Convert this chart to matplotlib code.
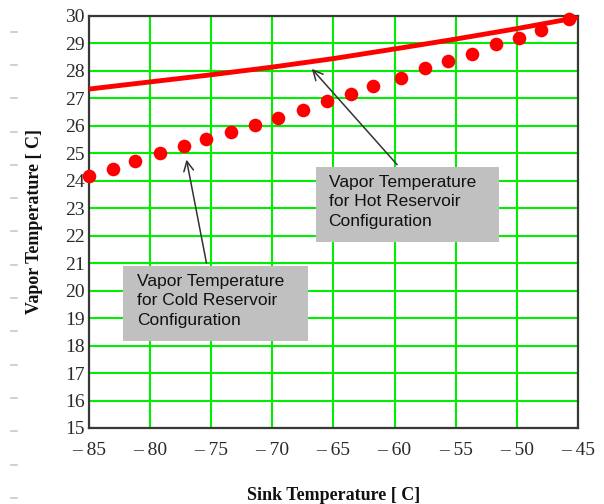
import matplotlib
matplotlib.use("Agg")
import matplotlib.pyplot as plt
from matplotlib.patches import Rectangle
from matplotlib.lines import Line2D

# Data
sink_cold = [-85.0, -83.0, -81.2, -79.2, -77.2, -75.4, -73.4, -71.4, -69.5, -67.5,
             -65.5, -63.6, -61.8, -59.5, -57.5, -55.6, -53.7, -51.7, -49.8, -48.0, -45.7]
vapor_cold = [24.18, 24.44, 24.73, 25.02, 25.27, 25.53, 25.78, 26.04, 26.29, 26.58,
              26.91, 27.16, 27.45, 27.75, 28.09, 28.36, 28.62, 28.97, 29.20, 29.49, 29.90]
sink_hot = [-85, -80, -75, -70, -65, -60, -55, -50, -45]
vapor_hot = [27.34, 27.60, 27.86, 28.14, 28.45, 28.80, 29.16, 29.54, 29.95]

x_ticks = [-85, -80, -75, -70, -65, -60, -55, -50, -45]
x_tick_labels = ["\u2013 85", "\u2013 80", "\u2013 75", "\u2013 70", "\u2013 65",
                 "\u2013 60", "\u2013 55", "\u2013 50", "\u2013 45"]
y_ticks = list(range(15, 31))

W, H = 604, 504
fig = plt.figure(figsize=(W / 100, H / 100), dpi=100)
ax = fig.add_axes([89 / W, 1 - 428 / H, (578 - 89) / W, (428 - 16) / H])

ax.set_xlim(-85, -45)
ax.set_ylim(15, 30)
ax.set_xticks(x_ticks)
ax.set_xticklabels(x_tick_labels)
ax.set_yticks(y_ticks)
ax.grid(True, color="#00ee00", linewidth=1.5)
ax.set_axisbelow(True)
ax.tick_params(axis="y", length=0, labelsize=14, colors="#2a2a2a", pad=3)
ax.tick_params(axis="x", length=0, labelsize=14, colors="#2a2a2a", pad=10)
for lab in ax.get_xticklabels() + ax.get_yticklabels():
    lab.set_family("Liberation Serif")
for s in ax.spines.values():
    s.set_color("#383838")
    s.set_linewidth(1.6)

ax.plot(sink_hot, vapor_hot, color="#ff0000", linewidth=3.5, solid_capstyle="butt", zorder=3)
ax.plot(sink_cold, vapor_cold, linestyle="none", marker="o", markersize=9.8,
        color="#ff0000", markeredgewidth=0, zorder=4, clip_on=False)

# Annotation boxes
ax.add_patch(Rectangle((-66.43, 21.78), 14.97, 2.73, facecolor="#c0c0c0",
                       edgecolor="none", zorder=5))
ax.add_patch(Rectangle((-82.22, 18.18), 15.13, 2.73, facecolor="#c0c0c0",
                       edgecolor="none", zorder=5))
ax.text(-65.4, 24.22, "Vapor Temperature\nfor Hot Reservoir\nConfiguration",
        family="Liberation Sans", fontsize=12.5, color="#111111", va="top", ha="left",
        linespacing=1.38, zorder=6)
ax.text(-81.1, 20.62, "Vapor Temperature\nfor Cold Reservoir\nConfiguration",
        family="Liberation Sans", fontsize=12.5, color="#111111", va="top", ha="left",
        linespacing=1.38, zorder=6)

ax.annotate("", xy=(-66.92, 28.15), xytext=(-59.64, 24.51),
            arrowprops=dict(arrowstyle="->,head_length=0.7,head_width=0.35",
                            color="#333333", lw=1.1), zorder=6)
ax.annotate("", xy=(-77.07, 24.87), xytext=(-75.35, 20.91),
            arrowprops=dict(arrowstyle="->,head_length=0.7,head_width=0.35",
                            color="#333333", lw=1.1), zorder=6)

ax.set_xlabel("Sink Temperature [ C]", family="Liberation Serif", fontweight="bold",
              fontsize=13, color="#111111", labelpad=20)
ax.set_ylabel("Vapor Temperature [ C]", family="Liberation Serif", fontweight="bold",
              fontsize=13, color="#111111", labelpad=16)

# faint margin dashes
for i in range(15):
    yy = 1 - (31.7 + i * 33.3) / H
    fig.add_artist(Line2D([11 / W, 17 / W], [yy, yy], color="#c8c8c8", linewidth=1.2))

fig.savefig("out.png", dpi=100)
